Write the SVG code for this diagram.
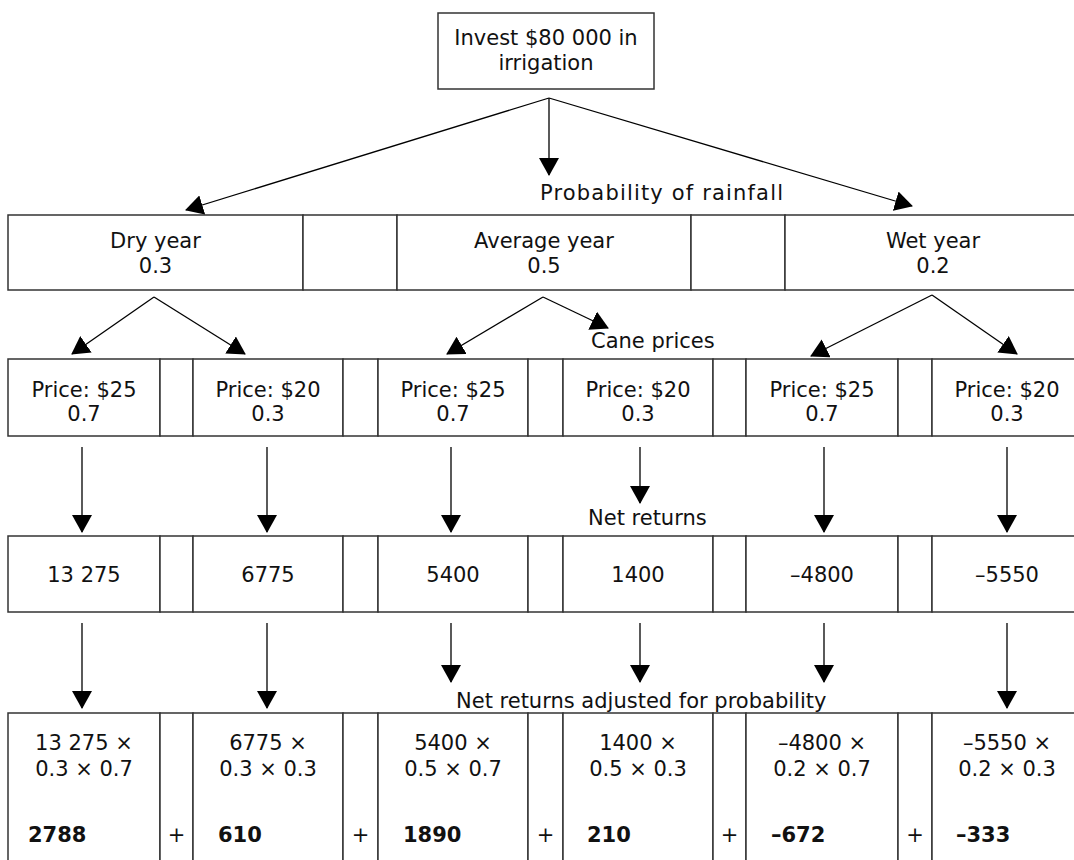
<svg xmlns="http://www.w3.org/2000/svg" width="1074" height="860" viewBox="0 0 1074 860">
<style>
  .box { fill: #fff; stroke: #333; stroke-width: 1.5; }
  .t { font-family: "DejaVu Sans", "Liberation Sans", sans-serif; font-size: 21px; fill: #111; }
  .c { text-anchor: middle; }
  .b { font-weight: bold; }
  .con line { stroke: #000; stroke-width: 1.3; marker-end: url(#ah); }
</style>
<defs>
  <marker id="ah" viewBox="0 0 18 20" markerWidth="18" markerHeight="20" refX="17" refY="10" orient="auto" markerUnits="userSpaceOnUse">
    <path d="M0,0 L18,10 L0,20 Z" fill="#000"/>
  </marker>
</defs>
<rect width="1074" height="860" fill="#fff"/>

<g id="invest">
  <rect class="box" x="438" y="13" width="216" height="76"/>
  <text class="t c" x="546" y="45">Invest $80 000 in</text>
  <text class="t c" x="546" y="70">irrigation</text>
</g>

<g id="labels">
  <text class="t" x="540" y="200" textLength="243" lengthAdjust="spacing">Probability of rainfall</text>
  <text class="t" x="591" y="348">Cane prices</text>
  <text class="t" x="588" y="525">Net returns</text>
  <text class="t" x="456" y="708">Net returns adjusted for probability</text>
</g>

<g id="row-years">
  <g id="dry"><rect class="box" x="8" y="215" width="295" height="75"/>
    <text class="t c" x="155.5" y="248">Dry year</text><text class="t c" x="155.5" y="273">0.3</text></g>
  <g id="gap-y1"><rect class="box" x="303" y="215" width="94" height="75"/></g>
  <g id="average"><rect class="box" x="397" y="215" width="294" height="75"/>
    <text class="t c" x="544" y="248">Average year</text><text class="t c" x="544" y="273">0.5</text></g>
  <g id="gap-y2"><rect class="box" x="691" y="215" width="94" height="75"/></g>
  <g id="wet"><rect class="box" x="785" y="215" width="297" height="75"/>
    <text class="t c" x="933" y="248">Wet year</text><text class="t c" x="933" y="273">0.2</text></g>
</g>

<g id="row-prices">
  <g id="p1"><rect class="box" x="8" y="359" width="152" height="77"/>
    <text class="t c" x="84" y="397">Price: $25</text><text class="t c" x="84" y="421">0.7</text></g>
  <g id="pg1"><rect class="box" x="160" y="359" width="33" height="77"/></g>
  <g id="p2"><rect class="box" x="193" y="359" width="150" height="77"/>
    <text class="t c" x="268" y="397">Price: $20</text><text class="t c" x="268" y="421">0.3</text></g>
  <g id="pg2"><rect class="box" x="343" y="359" width="35" height="77"/></g>
  <g id="p3"><rect class="box" x="378" y="359" width="150" height="77"/>
    <text class="t c" x="453" y="397">Price: $25</text><text class="t c" x="453" y="421">0.7</text></g>
  <g id="pg3"><rect class="box" x="528" y="359" width="35" height="77"/></g>
  <g id="p4"><rect class="box" x="563" y="359" width="150" height="77"/>
    <text class="t c" x="638" y="397">Price: $20</text><text class="t c" x="638" y="421">0.3</text></g>
  <g id="pg4"><rect class="box" x="713" y="359" width="33" height="77"/></g>
  <g id="p5"><rect class="box" x="746" y="359" width="152" height="77"/>
    <text class="t c" x="822" y="397">Price: $25</text><text class="t c" x="822" y="421">0.7</text></g>
  <g id="pg5"><rect class="box" x="898" y="359" width="34" height="77"/></g>
  <g id="p6"><rect class="box" x="932" y="359" width="150" height="77"/>
    <text class="t c" x="1007" y="397">Price: $20</text><text class="t c" x="1007" y="421">0.3</text></g>
</g>

<g id="row-net">
  <g id="n1"><rect class="box" x="8" y="536" width="152" height="76"/><text class="t c" x="84" y="582">13 275</text></g>
  <g id="ng1"><rect class="box" x="160" y="536" width="33" height="76"/></g>
  <g id="n2"><rect class="box" x="193" y="536" width="150" height="76"/><text class="t c" x="268" y="582">6775</text></g>
  <g id="ng2"><rect class="box" x="343" y="536" width="35" height="76"/></g>
  <g id="n3"><rect class="box" x="378" y="536" width="150" height="76"/><text class="t c" x="453" y="582">5400</text></g>
  <g id="ng3"><rect class="box" x="528" y="536" width="35" height="76"/></g>
  <g id="n4"><rect class="box" x="563" y="536" width="150" height="76"/><text class="t c" x="638" y="582">1400</text></g>
  <g id="ng4"><rect class="box" x="713" y="536" width="33" height="76"/></g>
  <g id="n5"><rect class="box" x="746" y="536" width="152" height="76"/><text class="t c" x="822" y="582">–4800</text></g>
  <g id="ng5"><rect class="box" x="898" y="536" width="34" height="76"/></g>
  <g id="n6"><rect class="box" x="932" y="536" width="150" height="76"/><text class="t c" x="1007" y="582">–5550</text></g>
</g>

<g id="row-adjusted">
  <g id="a1"><rect class="box" x="8" y="713" width="152" height="160"/>
    <text class="t c" x="84" y="750">13 275 ×</text><text class="t c" x="84" y="776">0.3 × 0.7</text>
    <text class="t b" x="28" y="842">2788</text></g>
  <g id="ag1"><rect class="box" x="160" y="713" width="33" height="160"/><text class="t c" x="176.5" y="842">+</text></g>
  <g id="a2"><rect class="box" x="193" y="713" width="150" height="160"/>
    <text class="t c" x="268" y="750">6775 ×</text><text class="t c" x="268" y="776">0.3 × 0.3</text>
    <text class="t b" x="218" y="842">610</text></g>
  <g id="ag2"><rect class="box" x="343" y="713" width="35" height="160"/><text class="t c" x="360.5" y="842">+</text></g>
  <g id="a3"><rect class="box" x="378" y="713" width="150" height="160"/>
    <text class="t c" x="453" y="750">5400 ×</text><text class="t c" x="453" y="776">0.5 × 0.7</text>
    <text class="t b" x="403" y="842">1890</text></g>
  <g id="ag3"><rect class="box" x="528" y="713" width="35" height="160"/><text class="t c" x="545.5" y="842">+</text></g>
  <g id="a4"><rect class="box" x="563" y="713" width="150" height="160"/>
    <text class="t c" x="638" y="750">1400 ×</text><text class="t c" x="638" y="776">0.5 × 0.3</text>
    <text class="t b" x="587" y="842">210</text></g>
  <g id="ag4"><rect class="box" x="713" y="713" width="33" height="160"/><text class="t c" x="729.5" y="842">+</text></g>
  <g id="a5"><rect class="box" x="746" y="713" width="152" height="160"/>
    <text class="t c" x="822" y="750">–4800 ×</text><text class="t c" x="822" y="776">0.2 × 0.7</text>
    <text class="t b" x="771" y="842">–672</text></g>
  <g id="ag5"><rect class="box" x="898" y="713" width="34" height="160"/><text class="t c" x="915" y="842">+</text></g>
  <g id="a6"><rect class="box" x="932" y="713" width="150" height="160"/>
    <text class="t c" x="1007" y="750">–5550 ×</text><text class="t c" x="1007" y="776">0.2 × 0.3</text>
    <text class="t b" x="956" y="842">–333</text></g>
</g>

<g id="connectors" class="con">
  <line x1="549" y1="98" x2="186" y2="210"/>
  <line x1="549" y1="98" x2="549" y2="175"/>
  <line x1="549" y1="98" x2="912" y2="206"/>

  <line x1="154" y1="297" x2="72" y2="354"/>
  <line x1="154" y1="297" x2="245" y2="354"/>
  <line x1="543" y1="297" x2="447" y2="354"/>
  <line x1="543" y1="297" x2="608" y2="328"/>
  <line x1="932" y1="295" x2="811" y2="356"/>
  <line x1="932" y1="295" x2="1017" y2="354"/>

  <line x1="82" y1="447" x2="82" y2="532"/>
  <line x1="267" y1="447" x2="267" y2="532"/>
  <line x1="451" y1="447" x2="451" y2="532"/>
  <line x1="640" y1="447" x2="640" y2="503"/>
  <line x1="824" y1="447" x2="824" y2="532"/>
  <line x1="1007" y1="447" x2="1007" y2="532"/>

  <line x1="82" y1="623" x2="82" y2="708"/>
  <line x1="267" y1="623" x2="267" y2="708"/>
  <line x1="451" y1="623" x2="451" y2="682"/>
  <line x1="640" y1="623" x2="640" y2="682"/>
  <line x1="824" y1="623" x2="824" y2="682"/>
  <line x1="1007" y1="623" x2="1007" y2="708"/>
</g>
</svg>
